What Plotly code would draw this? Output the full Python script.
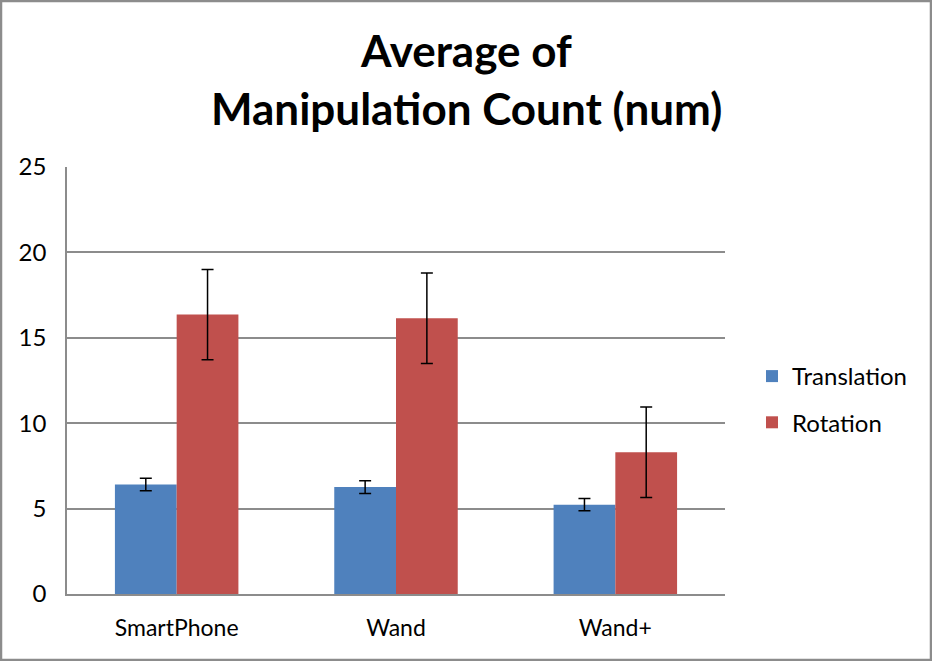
import plotly.graph_objects as go

categories = ["SmartPhone", "Wand", "Wand+"]
translation = [6.41, 6.26, 5.23]
translation_err = [0.37, 0.37, 0.36]
rotation = [16.36, 16.14, 8.30]
rotation_err = [2.64, 2.65, 2.65]
y_ticks = [0, 5, 10, 15, 20, 25]
title_lines = ["Average of", "Manipulation Count (num)"]

W, H = 932, 661
ML, MR, MT, MB = 67, 207, 167, 67
PW, PH = W - ML - MR, H - MT - MB

font_family = "Lato, 'Open Sans', sans-serif"

fig = go.Figure()
fig.add_trace(go.Bar(
    x=categories, y=translation, name="Translation",
    marker=dict(color="#4F81BD", line=dict(width=0)),
    error_y=dict(type="data", array=translation_err, color="black", thickness=1.5, width=6),
    legendgroup="a",
))
fig.add_trace(go.Bar(
    x=categories, y=rotation, name="Rotation",
    marker=dict(color="#C0504D", line=dict(width=0)),
    error_y=dict(type="data", array=rotation_err, color="black", thickness=1.5, width=6),
    legendgroup="b",
))

def px_x(p):
    return (p - ML) / PW

def px_y(p):
    return (H - MB - p) / PH

annotations = []
for line, yc in zip(title_lines, [50, 108]):
    annotations.append(dict(
        text="<b>" + line + "</b>", xref="paper", yref="paper",
        x=px_x(466), y=px_y(yc), xanchor="center", yanchor="middle",
        showarrow=False, font=dict(size=44, family=font_family, color="black"),
    ))

fig.update_layout(
    width=W, height=H,
    margin=dict(l=ML, r=MR, t=MT, b=MB),
    paper_bgcolor="white", plot_bgcolor="white",
    barmode="group", bargap=0.437, bargroupgap=0,
    font=dict(family=font_family, color="black", size=23),
    xaxis=dict(
        showgrid=False, showline=True, linecolor="#8C8C8C", linewidth=1.5,
        ticks="", tickfont=dict(size=23), ticklabelstandoff=13,
    ),
    yaxis=dict(
        range=[0, 25], tickvals=y_ticks, showgrid=True, gridcolor="#8C8C8C", gridwidth=1.5,
        showline=True, linecolor="#8C8C8C", linewidth=1.5, ticks="",
        tickfont=dict(size=24), zeroline=False, ticklabelstandoff=14,
    ),
    legend=dict(
        x=px_x(752), y=px_y(354), xanchor="left", yanchor="top",
        font=dict(size=24), traceorder="grouped", tracegroupgap=12,
        bgcolor="rgba(0,0,0,0)",
    ),
    annotations=annotations,
    shapes=[dict(
        type="rect", xref="paper", yref="paper",
        x0=px_x(1), x1=px_x(W - 1), y0=px_y(H - 1), y1=px_y(1),
        line=dict(color="#8C8C8C", width=2.5), layer="above",
    )],
)

fig.write_html("out.html")
